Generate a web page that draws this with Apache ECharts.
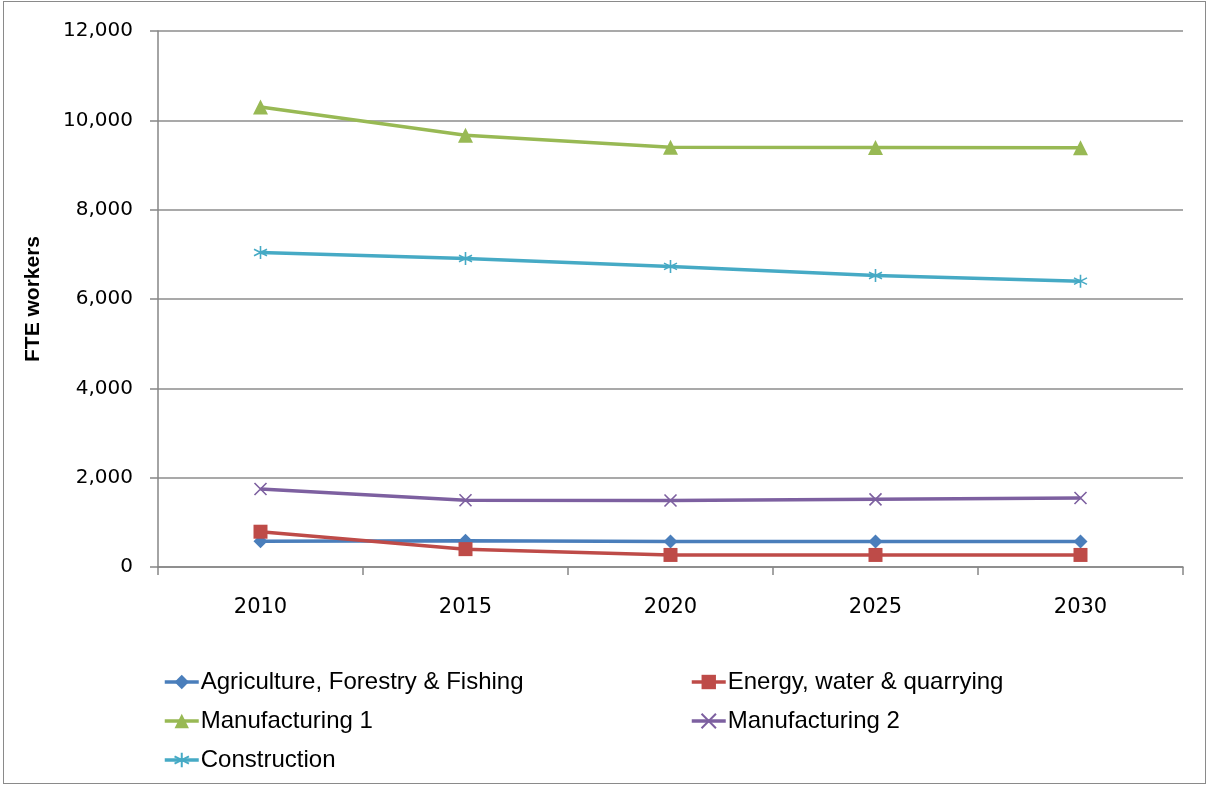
<!DOCTYPE html>
<html>
<head>
<meta charset="utf-8">
<script src="https://cdn.jsdelivr.net/npm/echarts@6/dist/echarts.min.js"></script>
<style>
  html, body { margin: 0; padding: 0; background: #fff; }
  #frame { position: absolute; left: 3px; top: 1px; width: 1203px; height: 783px; border: 1px solid #8a8a8a; box-sizing: border-box; }
  #chart { position: absolute; left: 0; top: 0; width: 1209px; height: 787px; }
</style>
</head>
<body>
<div id="frame"></div>
<div id="chart"></div>
<script>
// chart data
const years = ['2010', '2015', '2020', '2025', '2030'];
const agriculture = [575, 585, 570, 570, 570];
const energy = [790, 400, 270, 270, 270];
const manufacturing1 = [10300, 9665, 9400, 9390, 9385];
const manufacturing2 = [1745, 1495, 1490, 1515, 1545];
const construction = [7040, 6905, 6730, 6525, 6400];

const yTicks = { min: 0, max: 12000, interval: 2000 };

const labelFont = 'DejaVu Sans';
const textFont = 'Liberation Sans Narrow, Liberation Sans, sans-serif';

const xMark = 'path://M0,0L10,10M10,0L0,10';
const starMark = 'path://M5,0L5,10M0.7,2.5L9.3,7.5M9.3,2.5L0.7,7.5';

function lineSeries(name, data, color, symbol, size, strokeOnly) {
    return {
        name: name,
        type: 'line',
        data: data,
        symbol: symbol,
        symbolSize: size,
        showAllSymbol: true,
        lineStyle: { color: color, width: 3.5 },
        itemStyle: strokeOnly
            ? { color: 'rgba(0,0,0,0)', borderColor: color, borderWidth: 1.6 }
            : { color: color, borderWidth: 0 },
        emphasis: { disabled: true },
        z: 3
    };
}

const chart = echarts.init(document.getElementById('chart'));

const legendCommon = {
    orient: 'vertical',
    height: 200,
    itemWidth: 34,
    itemHeight: 18,
    itemGap: 15,
    lineStyle: { width: 3.5 },
    textStyle: { fontFamily: textFont, fontSize: 24, color: '#000', padding: [0, 0, 0, -3] },
    selectedMode: false
};

chart.setOption({
    animation: false,
    backgroundColor: 'transparent',
    grid: { left: 158, right: 26, top: 31, bottom: 220, containLabel: false },
    legend: [
        Object.assign({}, legendCommon, {
            left: 158, top: 665,
            data: ['Agriculture, Forestry & Fishing', 'Manufacturing 1', 'Construction']
        }),
        Object.assign({}, legendCommon, {
            left: 685, top: 665,
            data: ['Energy, water & quarrying', 'Manufacturing 2']
        })
    ],
    xAxis: {
        type: 'category',
        data: years,
        boundaryGap: true,
        axisLine: { lineStyle: { color: '#868686', width: 1.5 } },
        axisTick: { show: true, length: 8, lineStyle: { color: '#868686', width: 1.5 } },
        axisLabel: { margin: 30, fontFamily: labelFont, fontSize: 21, color: '#000' },
        splitLine: { show: false }
    },
    yAxis: {
        type: 'value',
        min: yTicks.min,
        max: yTicks.max,
        interval: yTicks.interval,
        name: 'FTE workers',
        nameLocation: 'middle',
        nameRotate: 90,
        nameGap: 114,
        nameTextStyle: { fontFamily: textFont, fontWeight: 'bold', fontSize: 21, color: '#000' },
        axisLine: { show: true, lineStyle: { color: '#868686', width: 1.5 } },
        axisTick: { show: true, length: 8, lineStyle: { color: '#868686', width: 1.5 } },
        axisLabel: {
            margin: 25, fontFamily: labelFont, fontSize: 20, color: '#000',
            formatter: v => v.toLocaleString('en-US')
        },
        splitLine: { lineStyle: { color: '#8c8c8c', width: 1.5 } }
    },
    series: [
        lineSeries('Agriculture, Forestry & Fishing', agriculture, '#4a7ebb', 'diamond', 14, false),
        lineSeries('Energy, water & quarrying', energy, '#be4b48', 'rect', 14, false),
        lineSeries('Manufacturing 1', manufacturing1, '#98b954', 'triangle', 15, false),
        lineSeries('Manufacturing 2', manufacturing2, '#7d60a0', xMark, 12, true),
        lineSeries('Construction', construction, '#46aac5', starMark, 13, true)
    ]
});
</script>
</body>
</html>
